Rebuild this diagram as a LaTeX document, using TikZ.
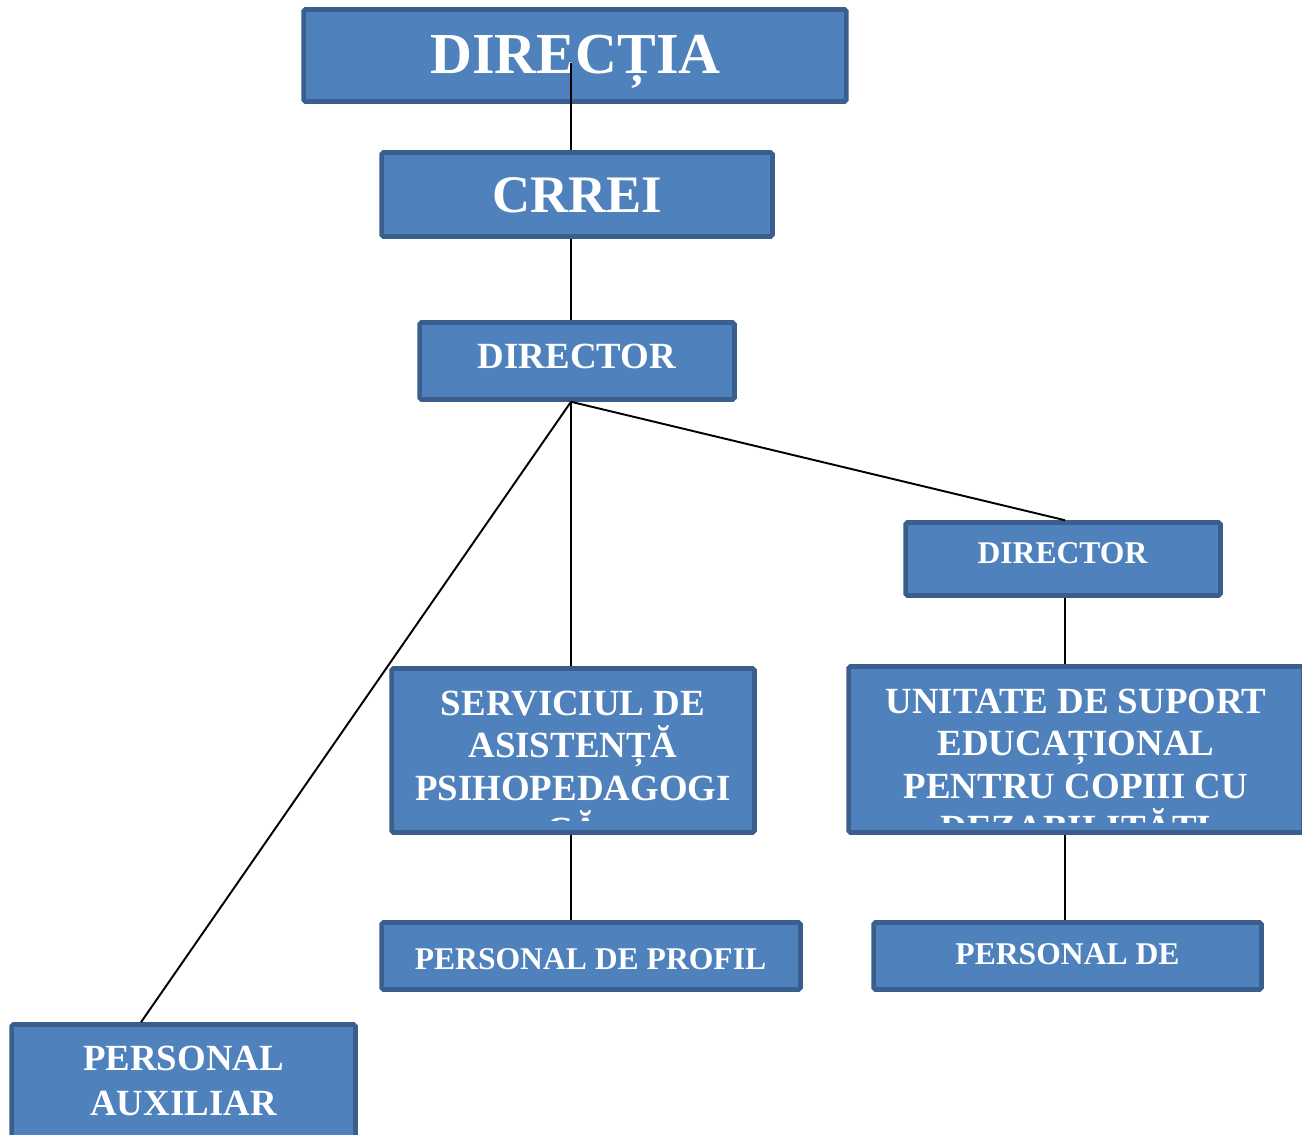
\documentclass[tikz,border=0pt]{standalone}
\usepackage{fontspec}
\setmainfont{Liberation Serif}
\usetikzlibrary{positioning,calc}
\definecolor{boxfill}{HTML}{4F81BD}
\definecolor{boxline}{HTML}{3A5F8D}
\def\fs#1{\fontsize{#1}{#1}\selectfont\bfseries}
\def\orgbox(#1)(#2)(#3:#4)% Syntax: (name) (center) (width:height), sizes in cm
{ \node[box,minimum width=#3cm,minimum height=#4cm] (#1) at (#2) {}; }

\begin{document}
\begin{tikzpicture}[x=0.02cm,y=-0.02cm,
		box/.style={draw=boxline,fill=boxfill,line width=2.6pt,rounded corners=1pt,inner sep=0pt},
		lbl/.style={text=white,inner sep=0pt,anchor=base},
		link/.style={draw=black,line width=1.1pt}]
		\useasboundingbox (0,0) rectangle (1302,1135);
		
		%boxes
		\orgbox(dir)(575,55.5)(10.86:1.84);
		\orgbox(crrei)(577,194.5)(7.82:1.68);
		\orgbox(director)(577,361)(6.30:1.54);
		\orgbox(adjunct)(1063,559)(6.30:1.46);
		\orgbox(sas)(573,750.5)(7.26:3.28);
		\orgbox(unitbox)(1076,749.5)(9.10:3.32);
		\orgbox(profil)(591,956)(8.38:1.34);
		\orgbox(persde)(1067.5,956)(7.76:1.34);
		\orgbox(aux)(183.5,1086)(6.88:2.46);
		
		%labels
		\node[lbl,font=\fs{33}] (dirtxt) at (575.5,74) {DIRECȚIA};
		\node[lbl,font=\fs{30}] (crreitxt) at (577.5,213) {CRREI};
		\node[lbl,font=\fs{21}] (directortxt) at (577,368) {DIRECTOR};
		\node[lbl,font=\fs{18}] (adjuncttxt) at (1062.5,563) {DIRECTOR};
		\node[lbl,font=\fs{18}] (profiltxt) at (590.5,969) {PERSONAL DE PROFIL};
		\node[lbl,font=\fs{18}] (persdetxt) at (1067.5,964) {PERSONAL DE};
		\foreach \t [count=\i from 0] in {PERSONAL,AUXILIAR}
			\node[lbl,font=\fs{21}] (auxtxt\i) at (183.5,1070+45*\i) {\t};
		
		\begin{scope}
		\clip (sas.north west) rectangle ($(sas.south east)+(0,-14)$);
		\foreach \t [count=\i from 0] in {SERVICIUL DE,ASISTENȚĂ,PSIHOPEDAGOGI,CĂ}
			\node[lbl,font=\fs{21}] (sastxt\i) at (573,715+42.5*\i) {\t};
		\end{scope}
		
		\begin{scope}
		\clip (unitbox.north west) rectangle ($(unitbox.south east)+(0,-12)$);
		\foreach \t [count=\i from 0] in {UNITATE DE SUPORT,EDUCAȚIONAL,PENTRU COPIII CU,DEZABILITĂȚI}
			\node[lbl,font=\fs{21}] (unittxt\i) at (1076,713+42.5*\i) {\t};
		\end{scope}
		
		%lines
		\coordinate (spine) at (571,63);
		\draw[link] (spine) -- (spine |- crrei.north);
		\draw[link] (crrei.south -| spine) -- (director.north -| spine);
		\coordinate (hub) at (director.south -| spine);
		\draw[link] (hub) -- (sas.north -| hub);
		\draw[link] (hub) -- ($(adjunct.north)+(2,0)$);
		\draw[link] (hub) -- ($(aux.north)+(-42.5,0)$);
		\draw[link] ($(adjunct.south)+(2,0)$) -- ($(unitbox.north -| adjunct.south)+(2,0)$);
		\draw[link] (sas.south -| hub) -- (profil.north -| hub);
		\draw[link] ($(unitbox.south -| adjunct.south)+(2,0)$) -- ($(persde.north -| adjunct.south)+(2,0)$);
\end{tikzpicture}
\end{document}
